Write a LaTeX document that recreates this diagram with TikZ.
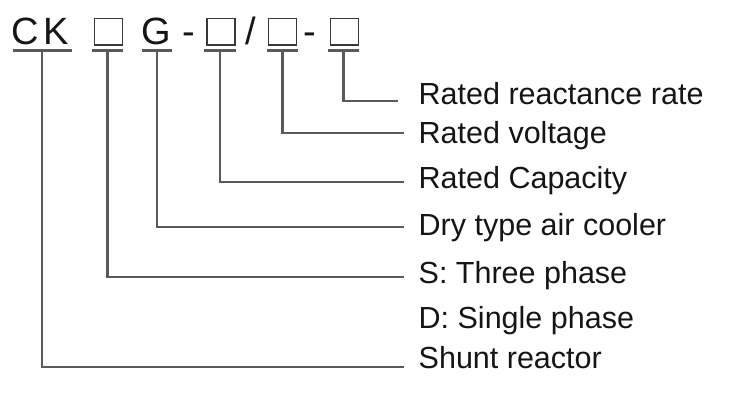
\documentclass[tikz,border=0pt]{standalone}
\usepackage{fontspec}
\setmainfont{Liberation Sans}
\definecolor{ink}{HTML}{151515}
\definecolor{wire}{HTML}{5A5A5A}
\begin{document}
\begin{tikzpicture}[x=1pt,y=-1pt,
  code/.style={anchor=base west,inner sep=0pt,text=ink,font=\fontsize{38}{40}\selectfont},
  label/.style={anchor=base west,inner sep=0pt,text=ink,font=\fontsize{30.5}{32}\selectfont},
  slot/.style={draw=ink!85,line width=1.7pt,minimum width=28pt,minimum height=26.5pt,inner sep=0pt,anchor=north west},
  uline/.style={draw=wire,line width=2.2pt},
  wireline/.style={draw=wire,line width=2.2pt}]
\useasboundingbox (0,0) rectangle (750,400);
% code line
\node[code] (ck) at (11,44.3) {C\kern5pt K};
\node[slot] (b1) at (93.5,17.5) {};
\node[code] (g) at (141.2,44.3) {G};
\node[code] (h1) at (182.5,44.3) {-};
\node[slot] (b2) at (206,17.5) {};
\node[code] (sl) at (245,44.3) {/};
\node[slot] (b3) at (267.5,17.5) {};
\node[code] (h2) at (303,44.3) {-};
\node[slot] (b4) at (329.5,17.5) {};
% underlines
\coordinate (u0) at (42,50.5);
\coordinate (u1) at (107.5,50.5);
\coordinate (u2) at (157,50.5);
\coordinate (u3) at (220,50.5);
\coordinate (u4) at (282.5,50.5);
\coordinate (u5) at (343.5,50.5);
\draw[uline] (13,50.5) -- (72,50.5);
\draw[uline] (92,50.5) -- (123,50.5);
\draw[uline] (142,50.5) -- (172,50.5);
\draw[uline] (204,50.5) -- (236,50.5);
\draw[uline] (267,50.5) -- (298,50.5);
\draw[uline] (328,50.5) -- (359,50.5);
% labels
\node[label] (l5) at (418.5,104) {Rated reactance rate};
\node[label] (l4) at (418.5,143) {Rated voltage};
\node[label] (l3) at (418.5,188) {Rated Capacity};
\node[label] (l2) at (418.5,235) {Dry type air cooler};
\node[label] (l1) at (418.5,283) {S: Three phase};
\node[label] (l1b) at (418.5,328) {D: Single phase};
\node[label] (l0) at (418.5,368) {Shunt reactor};
% line ends
\coordinate (e5) at (398,100.7);
\coordinate (e4) at (404,133);
\coordinate (e3) at (404,182);
\coordinate (e2) at (404,227);
\coordinate (e1) at (404,277);
\coordinate (e0) at (404,367);
% connectors
\draw[wireline] (u5) |- (e5);
\draw[wireline] (u4) |- (e4);
\draw[wireline] (u3) |- (e3);
\draw[wireline] (u2) |- (e2);
\draw[wireline] (u1) |- (e1);
\draw[wireline] (u0) |- (e0);
\end{tikzpicture}
\end{document}
